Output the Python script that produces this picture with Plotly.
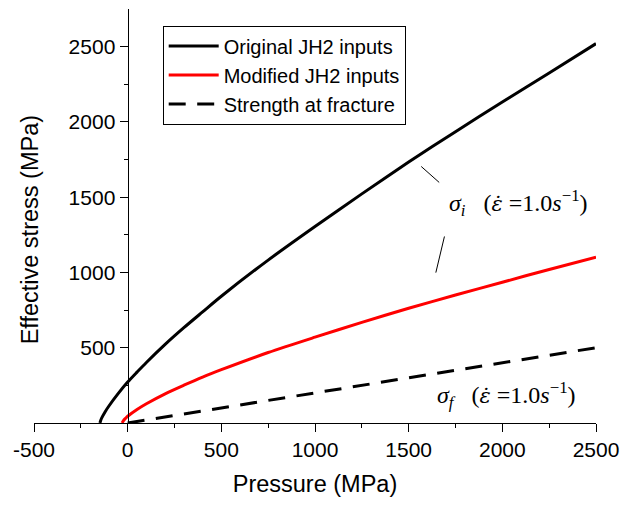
import plotly.graph_objects as go

# ---- data ----
p_orig = [-148, -140, -120, -100, -50, 0, 50, 100, 200, 300, 400, 500, 750,
          1000, 1250, 1500, 1750, 2000, 2250, 2500]
s_orig = [0, 30, 75, 113, 197, 272, 338, 402, 522, 633, 738, 842, 1082,
          1305, 1522, 1733, 1935, 2132, 2325, 2520]

p_mod = [-30, -20, -10, 0, 50, 100, 200, 300, 400, 500, 750, 1000, 1250,
         1500, 1750, 2000, 2250, 2500]
s_mod = [0, 20, 33, 45, 90, 128, 194, 251, 305, 354, 468, 570, 668,
         762, 850, 935, 1020, 1102]

p_frac = [0, 500, 1000, 1500, 2000, 2500]
s_frac = [0, 100, 200, 300, 400, 500]

names = ["Original JH2 inputs", "Modified JH2 inputs", "Strength at fracture"]

x_ticks = [-500, 0, 500, 1000, 1500, 2000, 2500]
x_labels = ["-500", "0", "500", "1000", "1500", "2000", "2500"]
y_ticks = [500, 1000, 1500, 2000, 2500]
y_labels = ["500", "1000", "1500", "2000", "2500"]

fig = go.Figure()
fig.add_trace(go.Scatter(x=p_orig, y=s_orig, mode="lines", name=names[0],
                         line=dict(color="black", width=3, shape="spline",
                                   smoothing=0.8)))
fig.add_trace(go.Scatter(x=p_mod, y=s_mod, mode="lines", name=names[1],
                         line=dict(color="#ff0000", width=3, shape="spline",
                                   smoothing=0.8)))
fig.add_trace(go.Scatter(x=p_frac, y=s_frac, mode="lines", name=names[2],
                         line=dict(color="black", width=3, dash="17px,11.5px")))

sans = "Liberation Sans, Arial"
axis_font = dict(family=sans, size=21, color="black")

fig.update_layout(
    width=624, height=507,
    margin=dict(l=34, r=28, t=9, b=84, autoexpand=False),
    paper_bgcolor="white", plot_bgcolor="white",
    showlegend=True,
    legend=dict(x=0.229, y=0.96, xanchor="left", yanchor="top",
                bgcolor="white", bordercolor="black", borderwidth=1,
                font=dict(family=sans, size=20, color="black"),
                itemwidth=50, tracegroupgap=0),
    xaxis=dict(range=[-500, 2500], tickvals=x_ticks, ticktext=x_labels,
               ticks="outside", ticklen=8, tickwidth=1.3, tickcolor="black",
               showline=True, linecolor="black", linewidth=1.3,
               showgrid=False, zeroline=False, tickfont=axis_font,
               minor=dict(tickvals=[-250, 250, 750, 1250, 1750, 2250],
                          ticks="outside", ticklen=4, tickcolor="black",
                          tickwidth=1.3, showgrid=False),
               title=dict(text="Pressure (MPa)", standoff=15,
                          font=dict(family=sans, size=23.5, color="black")),
               automargin=False),
    yaxis=dict(range=[0, 2750], tickvals=y_ticks, ticktext=y_labels,
               ticks="outside", ticklen=8, tickwidth=1.3, tickcolor="black",
               anchor="free", position=1/6,
               showline=True, linecolor="black", linewidth=1.3,
               showgrid=False, zeroline=False, tickfont=axis_font,
               minor=dict(tickvals=[250, 750, 1250, 1750, 2250],
                          ticks="outside", ticklen=4, tickcolor="black",
                          tickwidth=1.3, showgrid=False),
               automargin=False),
)

# y-axis title
fig.add_annotation(text="Effective stress (MPa)", textangle=-90,
                   xref="paper", yref="y", x=-0.008, y=1283,
                   xanchor="center", yanchor="middle", showarrow=False,
                   font=dict(family=sans, size=23.5, color="black"))

math_font = dict(family="Liberation Serif, Times New Roman", size=24, color="black")
eps = '<span style="font-family:DejaVu Serif;font-size:21px">ε̇</span>'
lbl_i = "<i>σ<sub>i</sub></i>   (<i>" + eps + "</i> =1.0<i>s</i><sup>−1</sup>)"
lbl_f = "<i>σ<sub>f</sub></i>   (<i>" + eps + "</i> =1.0<i>s</i><sup>−1</sup>)"
fig.add_annotation(text=lbl_i, x=1706, y=1463, xref="x", yref="y",
                   xanchor="left", yanchor="middle", showarrow=False,
                   font=math_font)
fig.add_annotation(text=lbl_f, x=1642, y=186, xref="x", yref="y",
                   xanchor="left", yanchor="middle", showarrow=False,
                   font=math_font)

# leader lines
fig.add_shape(type="line", x0=1567, y0=1704, x1=1663, y1=1598,
              xref="x", yref="y", line=dict(color="black", width=1))
fig.add_shape(type="line", x0=1691, y0=1239, x1=1645, y1=999,
              xref="x", yref="y", line=dict(color="black", width=1))

fig.write_html("out.html")
